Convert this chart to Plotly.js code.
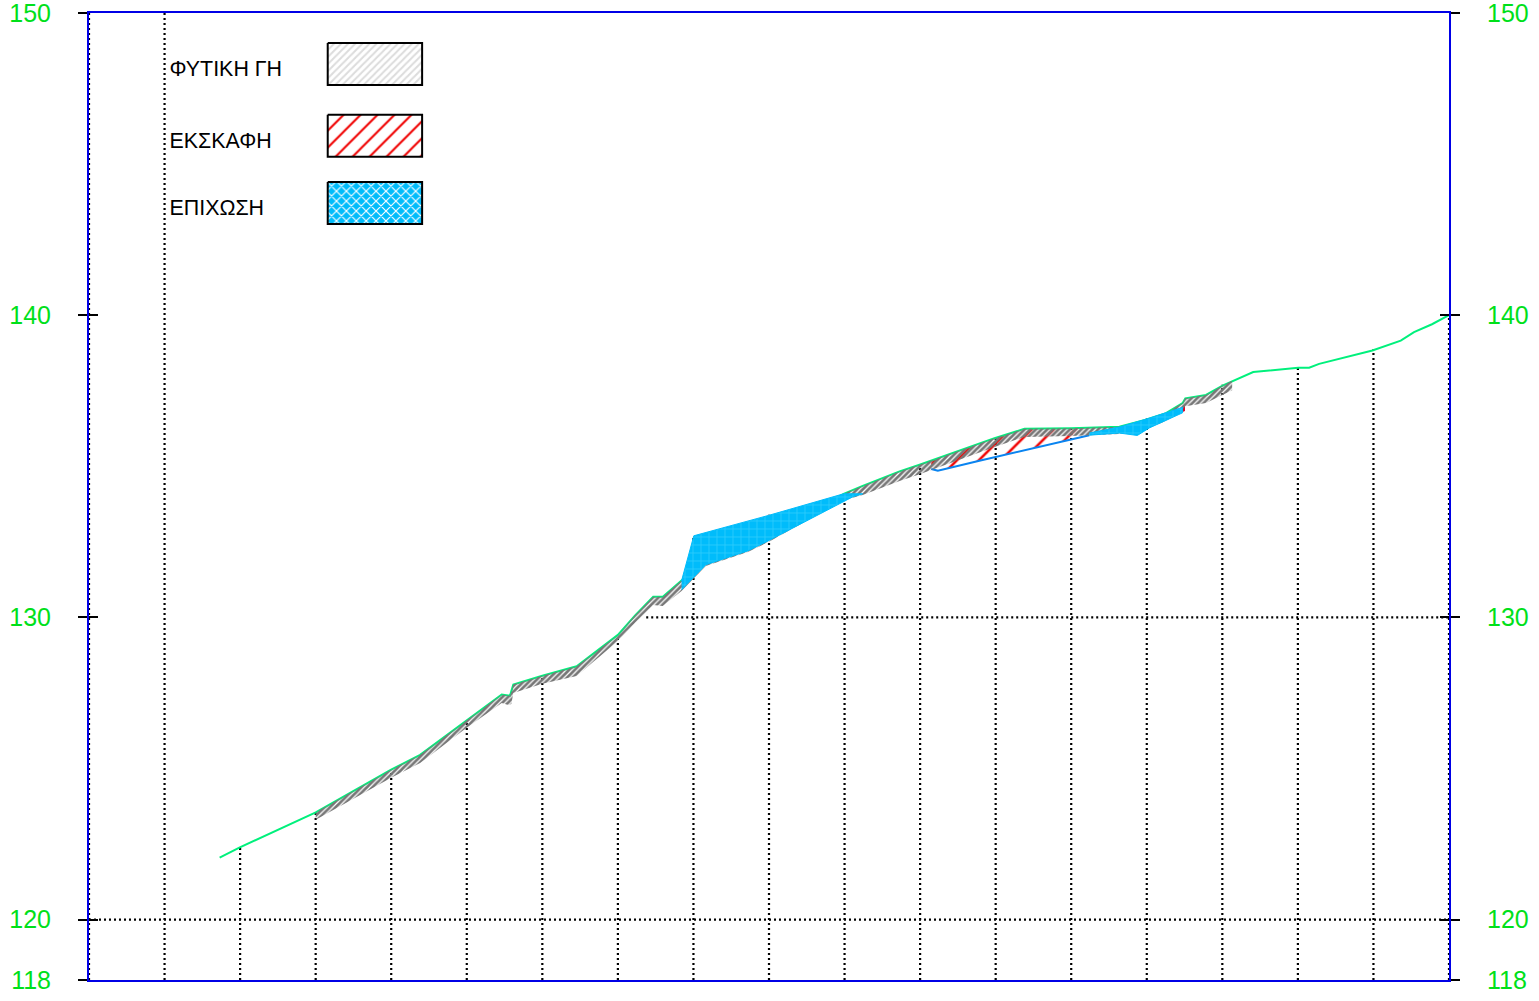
<!DOCTYPE html>
<html><head><meta charset="utf-8">
<script src="https://cdn.plot.ly/plotly-3.0.1.min.js"></script>
<style>html,body{margin:0;padding:0;background:#fff;overflow:hidden}#c{width:1539px;height:1001px}</style>
</head><body><div id="c"></div>
<script>
const tickVals=[118,120,130,140,150];
const stations=[0,20,40,60,80,100,120,140,160,180,200,220,240,260,280,300,320,340,360];
const stationTops=[150,150,122.39,123.55,124.96,126.59,128.07,129.42,132.7,133.4,134.15,135.05,135.95,136.3,136.58,137.7,138.3,138.87,140];
const gridLevels=[120,130];
const gridStarts=[0,147.5];
const gridEnd=360;

const groundX=[34.58,39.93,60.02,79.98,87.65,99.89,109.25,111.45,112.32,119.99,129.09,140,144.5,149.34,151.9,156.85,163.27,174.4,179.75,199.76,204.8,214.57,219.86,239.69,247.62,259.97,272.74,279.8,285.09,289.48,290.2,295.67,300.06,308.17,320.07,322.98,325.62,339.72,347.23,350.74,355.5,360];
const groundY=[122.05,122.39,123.55,124.96,125.45,126.59,127.45,127.41,127.78,128.07,128.38,129.42,130.06,130.68,130.68,131.22,131.91,132.37,132.73,134.09,134.35,134.83,135.05,135.93,136.24,136.26,136.31,136.54,136.76,137.09,137.25,137.36,137.67,138.12,138.26,138.26,138.39,138.83,139.16,139.44,139.7,140];

const soilTopX=[60.02,79.98,87.65,99.89,109.25,111.45,112.32,119.99,129.09,140,144.5,149.34,151.9,156.85,163.27,174.4,179.75,199.76,204.8,214.57,219.86,239.69,247.62,259.97,272.74,279.8,285.09,289.48,290.2,295.67,300.06,302.6];
const soilTopY=[123.55,124.96,125.45,126.59,127.45,127.41,127.78,128.07,128.38,129.42,130.06,130.68,130.68,131.22,131.91,132.37,132.73,134.09,134.35,134.83,135.05,135.93,136.24,136.26,136.31,136.54,136.76,137.09,137.25,137.36,137.67,137.83];
const soilBottomX=[302.6,300.06,295.67,290.2,289.48,285.09,279.8,272.74,259.97,247.62,239.69,219.86,214.57,204.8,199.76,179.75,174.4,163.27,156.85,151.9,149.34,144.5,140,129.09,119.99,112.32,111.8,111,109.25,99.89,87.65,79.98,60.02];
const soilBottomY=[137.52,137.36,137.09,136.99,136.86,136.5,136.23,136.07,136,135.97,135.64,134.74,134.51,134.05,133.88,132.49,132.16,131.7,130.87,130.38,130.41,129.81,129.22,128.06,127.8,127.5,127.13,127.1,127.17,126.34,125.18,124.69,123.3];

const cutX=[222.95,224.7,235.7,253.35,259.5,264.8,264.8,259.97,247.62,239.69,225,222.95];
const cutY=[134.91,134.85,135.18,135.71,135.87,136.03,136.28,136.26,136.24,135.93,135.28,135.19];
const cutSmallX=[288.1,289.97,289.97,288.1];
const cutSmallY=[136.8,137.03,136.83,136.8];
const designX=[222.95,224.7,235.7,253.35,259.5,264.8];
const designY=[134.91,134.85,135.18,135.71,135.87,136.03];

const fillAX=[156.85,160.1,179.75,199.76,204.8,202.2,179.75,174.4,163.27,156.85];
const fillAY=[131.21,132.7,133.37,134.09,134.09,133.99,132.53,132.2,131.74,130.91];
const fillBX=[264.8,272.74,279.8,284.9,289.48,289.48,280.7,277.5,272.74,264.8];
const fillBY=[136.1,136.3,136.56,136.77,136.95,136.77,136.27,136.02,136.1,136.03];

const legendLabels=["ΦΥΤΙΚΗ ΓΗ","ΕΚΣΚΑΦΗ","ΕΠΙΧΩΣΗ"];
const legendTextX=[21.3,21.3,21.3];
const legendTextY=[148.08,145.7,143.48];
const legendBoxX=[63.19,88.18];
const legendBoxTop=[149.01,146.63,144.41];
const legendBoxBottom=[147.62,145.24,143.02];

const BLUE='#00bcfb', GREEN='#00f07c', LABEL='#00e01a', AXIS='#0000e6', FONT='"Liberation Sans",Arial,sans-serif';
const dotted={color:'#000',width:2.2,dash:'2px,3px'};

const vx=[],vy=[];
stations.forEach((s,i)=>{vx.push(s,s,null);vy.push(118,stationTops[i],null);});
const hx=[],hy=[];
gridLevels.forEach((l,i)=>{hx.push(gridStarts[i],gridEnd,null);hy.push(l,l,null);});

function poly(x,y,pat,extra){return Object.assign({x,y,mode:'lines',fill:'toself',fillcolor:'rgba(0,0,0,0)',line:{width:0},fillpattern:pat,hoverinfo:'skip'},extra||{});}
function box(i,pat){
  const a=legendBoxX[0],b=legendBoxX[1],t=legendBoxTop[i],m=legendBoxBottom[i];
  return poly([a,b,b,a,a],[t,t,m,m,t],pat,{line:{color:'#000',width:2}});
}

const greyPat={shape:'/',fgcolor:'#777777',fgopacity:1,bgcolor:'rgba(255,255,255,0)',size:4,solidity:0.7,fillmode:'overlay'};
const redPat={shape:'/',fgcolor:'#f00000',fgopacity:1,bgcolor:'rgba(255,255,255,0)',size:15.5,solidity:0.16,fillmode:'overlay'};
const bluePat={shape:'+',fgcolor:'#2cccfc',fgopacity:1,bgcolor:BLUE,size:8,solidity:0.2,fillmode:'overlay'};

const traces=[
  {x:vx,y:vy,mode:'lines',line:dotted,hoverinfo:'skip'},
  {x:hx,y:hy,mode:'lines',line:dotted,hoverinfo:'skip'},
  poly(cutX,cutY,redPat),
  {x:cutSmallX,y:cutSmallY,mode:'lines',fill:'toself',fillcolor:'#e00020',line:{color:'#e00020',width:1},hoverinfo:'skip'},
  {x:designX,y:designY,mode:'lines',line:{color:'#0a84f0',width:2},hoverinfo:'skip'},
  {x:groundX,y:groundY,mode:'lines',line:{color:GREEN,width:2},hoverinfo:'skip'},
  poly(soilTopX.concat(soilBottomX),soilTopY.concat(soilBottomY),greyPat),
  poly(fillAX,fillAY,bluePat,{line:{color:BLUE,width:1}}),
  poly(fillBX,fillBY,bluePat,{line:{color:BLUE,width:1}}),
  box(0,{shape:'/',fgcolor:'#dcdcdc',bgcolor:'#fff',size:5,solidity:0.4,fillmode:'replace'}),
  box(1,{shape:'/',fgcolor:'#f00000',bgcolor:'#fff',size:12,solidity:0.17,fillmode:'replace'}),
  box(2,{shape:'x',fgcolor:'#ffffff',bgcolor:BLUE,size:7,solidity:0.3,fillmode:'replace'}),
  {x:legendTextX,y:legendTextY,text:legendLabels,mode:'text',textposition:'middle right',textfont:{family:FONT,size:21.4,color:'#000'},hoverinfo:'skip'},
  {x:[0],y:[118],yaxis:'y2',mode:'markers',marker:{opacity:0},hoverinfo:'skip'},
  {x:[0],y:[118],yaxis:'y3',mode:'markers',marker:{opacity:0},hoverinfo:'skip'},
  {x:[0],y:[118],yaxis:'y4',mode:'markers',marker:{opacity:0},hoverinfo:'skip'}
];

const yBase={range:[118,150],tickmode:'array',tickvals:tickVals,ticktext:tickVals.map(String),showgrid:false,zeroline:false,tickcolor:'#000',tickwidth:2,ticklen:9,fixedrange:true};
const layout={
  width:1539,height:1001,margin:{l:88.5,r:90,t:13,b:20.5,pad:0},
  paper_bgcolor:'#fff',plot_bgcolor:'#fff',showlegend:false,
  font:{family:FONT},
  xaxis:{range:[0,360],showgrid:false,zeroline:false,showticklabels:false,ticks:'',showline:true,mirror:true,linecolor:AXIS,linewidth:2,fixedrange:true},
  yaxis:Object.assign({},yBase,{side:'left',ticks:'outside',showline:true,linecolor:AXIS,linewidth:2,tickfont:{family:FONT,size:25,color:LABEL},ticklabelstandoff:22,ticklabeloverflow:'allow'}),
  yaxis2:Object.assign({},yBase,{overlaying:'y',side:'right',ticks:'outside',showline:true,linecolor:AXIS,linewidth:2,anchor:'x',tickfont:{family:FONT,size:25,color:LABEL},ticklabelstandoff:22,ticklabeloverflow:'allow'}),
  yaxis3:Object.assign({},yBase,{overlaying:'y',side:'left',ticks:'inside',showticklabels:false,anchor:'x'}),
  yaxis4:Object.assign({},yBase,{overlaying:'y',side:'right',ticks:'inside',showticklabels:false,anchor:'x'})
};
Plotly.newPlot('c',traces,layout,{displayModeBar:false,staticPlot:true});
</script></body></html>
